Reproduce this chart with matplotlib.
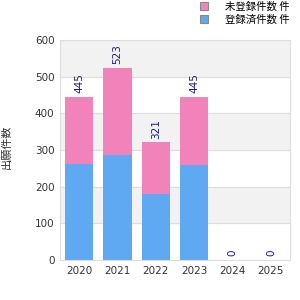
import matplotlib
matplotlib.use("Agg")
import matplotlib.pyplot as plt
from matplotlib.patches import Patch

plt.rcParams['font.family'] = ['Noto Sans CJK JP', 'DejaVu Sans']

years = ["2020", "2021", "2022", "2023", "2024", "2025"]
blue_vals = [263, 286, 181, 258, 0, 0]
totals = [445, 523, 321, 445, 0, 0]
pink_vals = [t - b for t, b in zip(totals, blue_vals)]
series_names = ["未登録件数 件", "登録済件数 件"]
y_label = "出願件数"
y_ticks = [0, 100, 200, 300, 400, 500, 600]

pink = "#F282BA"
blue = "#5FA8F2"

fig = plt.figure(figsize=(3, 3), dpi=100)
ax = fig.add_axes([0.20, 0.133, 0.767, 0.734])

for lo in range(0, 600, 100):
    if (lo // 100) % 2 == 1:
        ax.axhspan(lo, lo + 100, color="#F2F2F2", zorder=0)
for t in y_ticks:
    ax.axhline(t, color="#DDDDDD", lw=0.8, zorder=0.5)

x = list(range(len(years)))
ax.bar(x, blue_vals, width=0.74, color=blue, zorder=2)
ax.bar(x, pink_vals, bottom=blue_vals, width=0.74, color=pink, zorder=2)

for xi, t in zip(x, totals):
    ax.text(xi, t + 10, str(t), rotation=90, ha="center", va="bottom",
            fontsize=7.5, color="#1A1A8C", family=['DejaVu Sans'], zorder=3)

ax.set_xlim(-0.5, len(years) - 0.5)
ax.set_ylim(0, 600)
ax.set_xticks(x)
ax.set_xticklabels(years)
ax.set_yticks(y_ticks)
ax.tick_params(axis="both", length=0, labelsize=7.5, colors="#333333", pad=4)
for lab in ax.get_xticklabels() + ax.get_yticklabels():
    lab.set_family(['DejaVu Sans'])
for s in ax.spines.values():
    s.set_color("#DDDDDD")
    s.set_linewidth(0.8)

fig.text(0.005, 0.51, y_label, rotation=90, ha="left", va="center", fontsize=8, color="#333333")

handles = [Patch(facecolor=pink, edgecolor="#888888", lw=0.8),
           Patch(facecolor=blue, edgecolor="#888888", lw=0.8)]
fig.legend(handles, series_names, loc="upper left", bbox_to_anchor=(0.635, 1.025),
           frameon=False, fontsize=7.5, handlelength=0.8, handleheight=0.8,
           handletextpad=1.6, labelspacing=0.25)

fig.savefig("out.png", dpi=100)
